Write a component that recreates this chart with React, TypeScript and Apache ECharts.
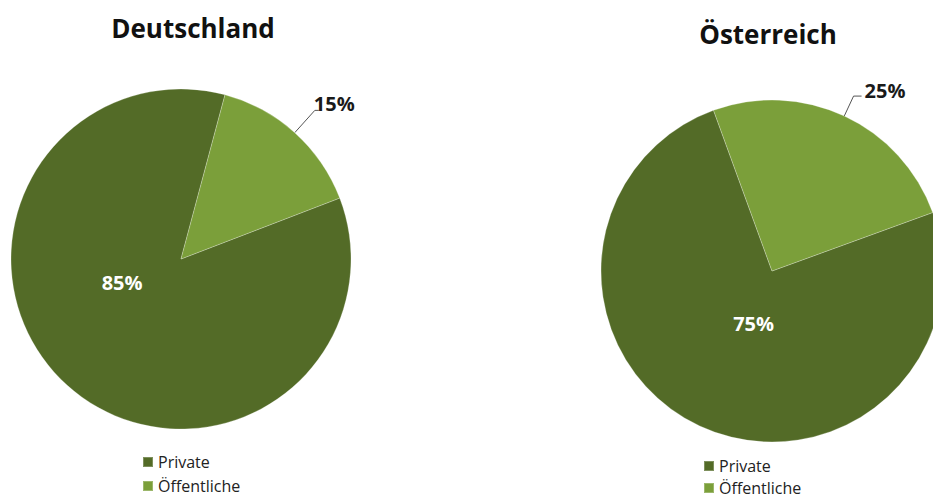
import React, { useEffect, useRef } from "react";
import * as echarts from "echarts";

const categories = ["Private", "Öffentliche"];
const deValues = [85, 15];
const atValues = [75, 25];
const titles = ["Deutschland", "Österreich"];
const colors = ["#536b27", "#7b9f3a"];

const FONT = "'Open Sans', 'DejaVu Sans', sans-serif";

function buildData(values: number[], insideOffset: number[]) {
  return values.map((v, i) => ({
    name: categories[i],
    value: v,
    itemStyle: { color: colors[i] },
    label:
      i === 0
        ? {
            position: "inside",
            offset: insideOffset,
            color: "#ffffff",
            fontWeight: "bold",
            fontSize: 20,
            fontFamily: FONT,
          }
        : {
            position: "outside",
            color: "#1a1a1a",
            fontWeight: "bold",
            fontSize: 20,
            fontFamily: FONT,
          },
  }));
}

function makeLegend(left: number, top: number, gap: number) {
  return {
    orient: "vertical",
    left: left,
    top: top,
    height: 80,
    padding: 0,
    icon: "rect",
    itemWidth: 10,
    itemHeight: 10,
    itemGap: gap,
    selectedMode: false,
    textStyle: { fontSize: 16, color: "#222", fontFamily: FONT, lineHeight: 16 },
    data: categories,
  };
}

export default function App() {
  const ref = useRef<HTMLDivElement>(null);
  useEffect(() => {
    if (!ref.current) return;
    const chart = echarts.init(ref.current, undefined, { renderer: "svg" });
    const commonSeries = {
      type: "pie",
      clockwise: true,
      avoidLabelOverlap: false,
      label: {
        show: true,
        formatter: "{c}%",
        distanceToLabelLine: 3,
      },
      itemStyle: { borderColor: "rgba(255,255,255,0.25)", borderWidth: 1 },
      emphasis: { disabled: true },
    };
    chart.setOption({
      animation: false,
      backgroundColor: "#ffffff",
      graphic: [
        {
          type: "text",
          x: 193,
          y: 28,
          style: {
            text: titles[0],
            font: `bold 26px ${FONT}`,
            fill: "#111",
            align: "center",
            verticalAlign: "middle",
          },
        },
        {
          type: "text",
          x: 768,
          y: 34,
          style: {
            text: titles[1],
            font: `bold 26px ${FONT}`,
            fill: "#111",
            align: "center",
            verticalAlign: "middle",
          },
        },
      ],
      legend: [makeLegend(142, 454, 8), makeLegend(703, 458, 6)],
      series: [
        {
          ...commonSeries,
          name: titles[0],
          center: [181, 259],
          radius: 170,
          startAngle: 21,
          labelLine: { show: true, length: 30, length2: 4, lineStyle: { color: "#555", width: 1 } },
          labelLayout: (p: any) => (p.dataIndex === 1 ? { dx: -8, dy: -7 } : {}),
          data: buildData(deValues, [0, -42]),
        },
        {
          ...commonSeries,
          name: titles[1],
          center: [772, 271],
          radius: 171,
          startAngle: 20,
          labelLine: { show: true, length: 22, length2: 8, lineStyle: { color: "#555", width: 1 } },
          labelLayout: (p: any) => (p.dataIndex === 1 ? { dy: -6 } : {}),
          data: buildData(atValues, [19, -28]),
        },
      ],
    });
    return () => chart.dispose();
  }, []);
  return (
    <div
      ref={ref}
      style={{ position: "fixed", left: 0, top: 0, width: 933, height: 500 }}
    />
  );
}
